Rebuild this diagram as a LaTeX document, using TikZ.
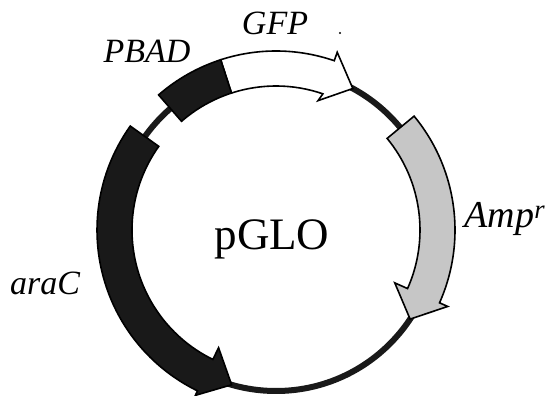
\documentclass[tikz,border=0pt]{standalone}
\usepackage{fontspec}
\setmainfont{Liberation Serif}
\tikzset{
  gene/.style={draw=black, line width=1.6pt, line join=miter},
  genename/.style={font=\fontsize{34}{40}\selectfont\itshape},
}
\begin{document}
\begin{tikzpicture}[x=1pt, y=1pt]
      \useasboundingbox (0,0) rectangle (557,396);
      \coordinate (c) at (276,166);
      \begin{scope}[shift={(c)}]
      % backbone
      \draw[line width=6pt, gray!20!black] (0,0) circle (161pt);
      % GFP
      \filldraw[gene, fill=white] (108:179pt) arc (108:71:179pt) -- (71:188pt)
        -- (61.5:161pt) -- (72:136pt) -- (71:144pt) arc (71:108:144pt) -- cycle;
      % PBAD
      \filldraw[gene, fill=gray!20!black] (131:179pt) arc (131:108:179pt)
        -- (108:144pt) arc (108:131:144pt) -- cycle;
      % Amp
      \filldraw[gene, fill=gray!45] (39.5:179pt) arc (39.5:-24:179pt) -- (-24:188pt)
        -- (-33.6:161pt) -- (-24:130pt) -- (-24:144pt) arc (-24:39.5:144pt) -- cycle;
      % araC
      \filldraw[gene, fill=gray!20!black] (144.5:179pt) arc (144.5:244:179pt) -- (244:184pt)
        -- (254:161pt) -- (244:131pt) -- (244:144pt) arc (244:144.5:144pt) -- cycle;
      \end{scope}
      \node[genename, anchor=base] (pbad) at (147,333) {PBAD};
      \node[genename, anchor=base] (gfp) at (275,361) {GFP};
      \node[genename, font=\fontsize{38}{44}\selectfont\itshape, anchor=base] (amp) at (505,168) {Amp\textsuperscript{r}};
      \node[genename, anchor=base] (arac) at (45,101) {araC};
      \node[font=\fontsize{45}{50}\selectfont, anchor=base] (pglo) at (272,146) {pGLO};
      \fill (340,363) circle (1.2pt);
\end{tikzpicture}
\end{document}
